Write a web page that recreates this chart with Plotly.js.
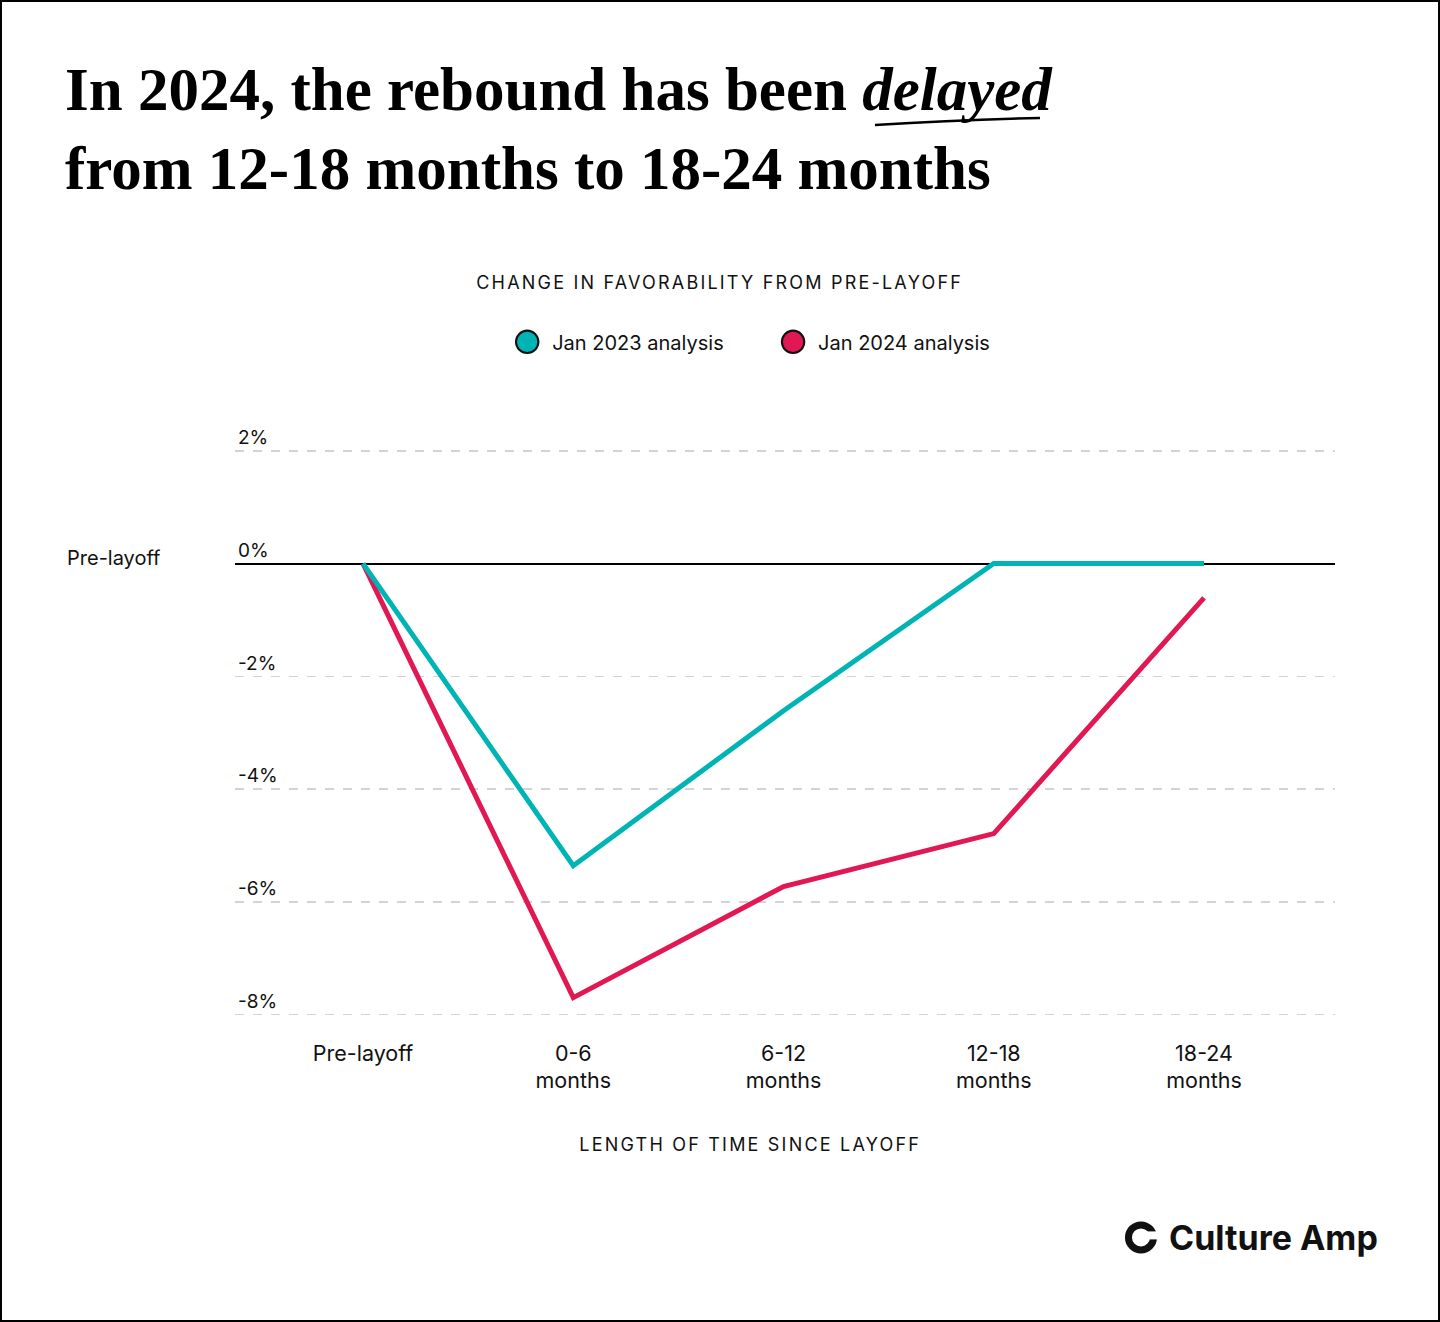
<!DOCTYPE html>
<html>
<head>
<meta charset="utf-8">
<script src="https://cdn.plot.ly/plotly-3.0.1.min.js"></script>
<style>
  html, body { margin: 0; padding: 0; background: #fff; }
  #wrap { position: relative; width: 1440px; height: 1322px; }
  #chart { width: 1440px; height: 1322px; }
  #frame { position: absolute; left: 0; top: 0; width: 1440px; height: 1322px; box-sizing: border-box; border: 2px solid #000; pointer-events: none; }
</style>
</head>
<body>
<div id="wrap"><div id="chart"></div><div id="frame"></div></div>
<script>
// ---- data ----
const categories = ["Pre-layoff", "0-6<br>months", "6-12<br>months", "12-18<br>months", "18-24<br>months"];
const seriesNames = ["Jan 2023 analysis", "Jan 2024 analysis"];
const jan2023 = [0, -5.36, -2.61, 0, 0];
const jan2024 = [0, -7.70, -5.73, -4.79, -0.61];
const yTickVals = [2, 0, -2, -4, -6, -8];
const yTickText = ["2%", "0%", "-2%", "-4%", "-6%", "-8%"];

const TEAL = "#00B3B5";
const RED = "#E11853";
const BODY = "Inter, 'Noto Sans', sans-serif";

const xIdx = categories.map((_, i) => i);

const traces = [
  { x: xIdx, y: jan2024, mode: "lines", line: { color: RED, width: 5 }, showlegend: false, hoverinfo: "skip" },
  { x: xIdx, y: jan2023, mode: "lines", line: { color: TEAL, width: 5 }, showlegend: false, hoverinfo: "skip" },
  { x: [null], y: [null], mode: "markers", name: seriesNames[0] + "\u00a0\u00a0\u00a0\u00a0\u00a0\u00a0\u00a0", marker: { color: TEAL, size: 16, line: { color: "#111", width: 1.5 } } },
  { x: [null], y: [null], mode: "markers", name: seriesNames[1], marker: { color: RED, size: 16, line: { color: "#111", width: 1.5 } } }
];

const layout = {
  width: 1440, height: 1322,
  paper_bgcolor: "#fff", plot_bgcolor: "#fff",
  margin: { l: 235, r: 105, t: 417.2, b: 298.5 },
  title: {
    text: "In 2024, the rebound has been <i>delayed</i><br>from 12-18 months to 18-24 months",
    font: { family: "'Liberation Serif', serif", size: 61, weight: 700, color: "#000" },
    x: 65 / 1440, xanchor: "left", xref: "container",
    y: 1 - 110 / 1322, yanchor: "top", yref: "container"
  },
  showlegend: true,
  legend: {
    orientation: "h", x: 0.467, xanchor: "center", y: 1.124, yanchor: "middle",
    font: { family: BODY, size: 20, color: "#111" },
    itemwidth: 40, tracegroupgap: 0, traceorder: "normal"
  },
  xaxis: {
    range: [-0.609, 4.623], fixedrange: true,
    tickmode: "array", tickvals: xIdx, ticktext: categories,
    showgrid: false, zeroline: false, showline: false, ticks: "",
    ticklabelstandoff: 15,
    tickfont: { family: BODY, size: 21.5, color: "#111" }
  },
  yaxis: {
    range: [-8.15, 2.6], fixedrange: true,
    tickmode: "array", tickvals: yTickVals, ticktext: yTickText,
    ticklabelposition: "inside top",
    tickfont: { family: BODY, size: 19, color: "#111" },
    showgrid: true, gridcolor: "#d3d3d3", gridwidth: 1.5, griddash: "dash",
    zeroline: true, zerolinecolor: "#000", zerolinewidth: 2,
    showline: false, ticks: ""
  },
  annotations: [
    { text: "CHANGE IN FAVORABILITY FROM PRE-LAYOFF", xref: "paper", yref: "paper", x: 0.4409, y: 1.2214,
      xanchor: "center", yanchor: "middle", showarrow: false, font: { family: BODY, size: 18, color: "#111" } },
    { text: "LENGTH OF TIME SINCE LAYOFF", xref: "paper", yref: "paper", x: 0.468, y: -0.2004,
      xanchor: "center", yanchor: "middle", showarrow: false, font: { family: BODY, size: 18, color: "#111" } },
    { text: "Pre-layoff", xref: "paper", yref: "y", x: -0.1545, y: 0, yshift: 6,
      xanchor: "left", yanchor: "middle", showarrow: false, font: { family: BODY, size: 20, color: "#111" } },
    { text: "<b>Culture Amp</b>", xref: "paper", yref: "paper", x: 0.847, y: -0.3538,
      xanchor: "left", yanchor: "middle", showarrow: false, font: { family: BODY, size: 34, weight: 700, color: "#111" } }
  ],
  shapes: [
    // underline under "delayed"
    { type: "path", xref: "paper", yref: "paper", xsizemode: "pixel", ysizemode: "pixel",
      xanchor: 0.5818, yanchor: 1.4869, path: "M0,-3 Q80,2 165,4",
      line: { color: "#000", width: 2.5 } },
    // logo ring
    { type: "circle", xref: "paper", yref: "paper", xsizemode: "pixel", ysizemode: "pixel",
      xanchor: 0.8236, yanchor: -0.3538, x0: -12.5, x1: 12.5, y0: -12.5, y1: 12.5,
      line: { color: "#111", width: 7 }, fillcolor: "rgba(0,0,0,0)" },
    { type: "rect", xref: "paper", yref: "paper", xsizemode: "pixel", ysizemode: "pixel",
      xanchor: 0.8236, yanchor: -0.3538, x0: 6, x1: 20, y0: -2, y1: 6,
      line: { width: 0 }, fillcolor: "#fff" }
  ]
};

Plotly.newPlot("chart", traces, layout, { displayModeBar: false, staticPlot: true }).then(() => {
  document.querySelectorAll("text").forEach(t => {
    const s = t.textContent;
    if (s === "CHANGE IN FAVORABILITY FROM PRE-LAYOFF" || s === "LENGTH OF TIME SINCE LAYOFF") {
      t.style.letterSpacing = "2.2px";
    }
  });
  document.querySelectorAll(".legendpoints path").forEach(p => {
    const tr = p.getAttribute("transform") || "";
    p.setAttribute("transform", tr + " scale(1.4)");
  });
});
</script>
</body>
</html>
